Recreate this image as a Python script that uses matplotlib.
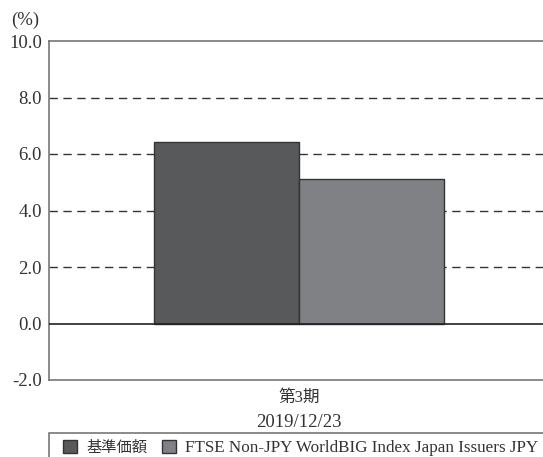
import matplotlib
matplotlib.use("Agg")
import matplotlib.pyplot as plt
from matplotlib.patches import Rectangle

plt.rcParams['font.family'] = ['Liberation Serif', 'Noto Sans CJK JP', 'DejaVu Sans']

# データ
categories = ["第3期"]
dates = ["2019/12/23"]
series_names = ["基準価額", "FTSE Non-JPY WorldBIG Index Japan Issuers JPY"]
series_values = [[6.42], [5.12]]
colors = ["#58595b", "#808184"]
yticks = [-2.0, 0.0, 2.0, 4.0, 6.0, 8.0, 10.0]

fig = plt.figure(figsize=(5.43, 4.57), dpi=100)
ax = fig.add_axes([49 / 543, 77 / 457, 1 - 49 / 543, 339 / 457])

width = 0.2935
x = list(range(len(categories)))
bars = []
for i, (name, vals) in enumerate(zip(series_names, series_values)):
    off = (i - 0.5) * width
    b = ax.bar([xx + off for xx in x], vals, width, color=colors[i],
               edgecolor="#333333", linewidth=1.0, label=name, zorder=3)
    bars.append(b)

ax.set_ylim(-2, 10)
ax.set_xlim(-0.506, 0.494)
ax.set_yticks(yticks)
ax.set_yticklabels(["%.1f" % v for v in yticks], fontsize=13.5, color="#333333")
ax.set_xticks(x)
ax.set_xticklabels(categories, fontsize=12, color="#333333")
ax.tick_params(axis="y", length=0, pad=5)
ax.tick_params(axis="x", length=0, pad=7)

# 日付（2行目）
for xx, d in zip(x, dates):
    ax.annotate(d, xy=(xx, 0), xycoords=ax.get_xaxis_transform(),
                xytext=(0, -24.5), textcoords="offset points",
                ha="center", va="top", fontsize=13.5, color="#333333")

# 点線グリッド
for v in yticks:
    if v in (0.0, -2.0, 10.0):
        continue
    ax.axhline(v, color="#333333", linestyle=(0, (6, 4)), linewidth=1.0, zorder=1)
ax.axhline(0, color="#222222", linewidth=1.2, zorder=4)

ax.spines["right"].set_visible(False)
for s in ["left", "top", "bottom"]:
    ax.spines[s].set_color("#777777")
    ax.spines[s].set_linewidth(1.2)

fig.text(11 / 543, 1 - 20 / 457, "(%)", fontsize=13.5, color="#333333", va="center")

# 凡例の枠
fig.patches.append(Rectangle((49 / 543, -0.05), 1.0, (457 - 433) / 457 + 0.05,
                             transform=fig.transFigure, fill=False,
                             edgecolor="#777777", linewidth=1.2))
leg = fig.legend(handles=[b[0] for b in bars], labels=series_names, loc="center left",
                 bbox_to_anchor=(63 / 543, 1 - 448 / 457), ncol=2, frameon=False,
                 fontsize=11, handlelength=0.9, handleheight=0.9, handletextpad=0.6,
                 columnspacing=1.0, borderpad=0, borderaxespad=0, labelcolor="#333333")
leg.get_texts()[1].set_fontsize(12.3)

fig.savefig("out.png", dpi=100)
